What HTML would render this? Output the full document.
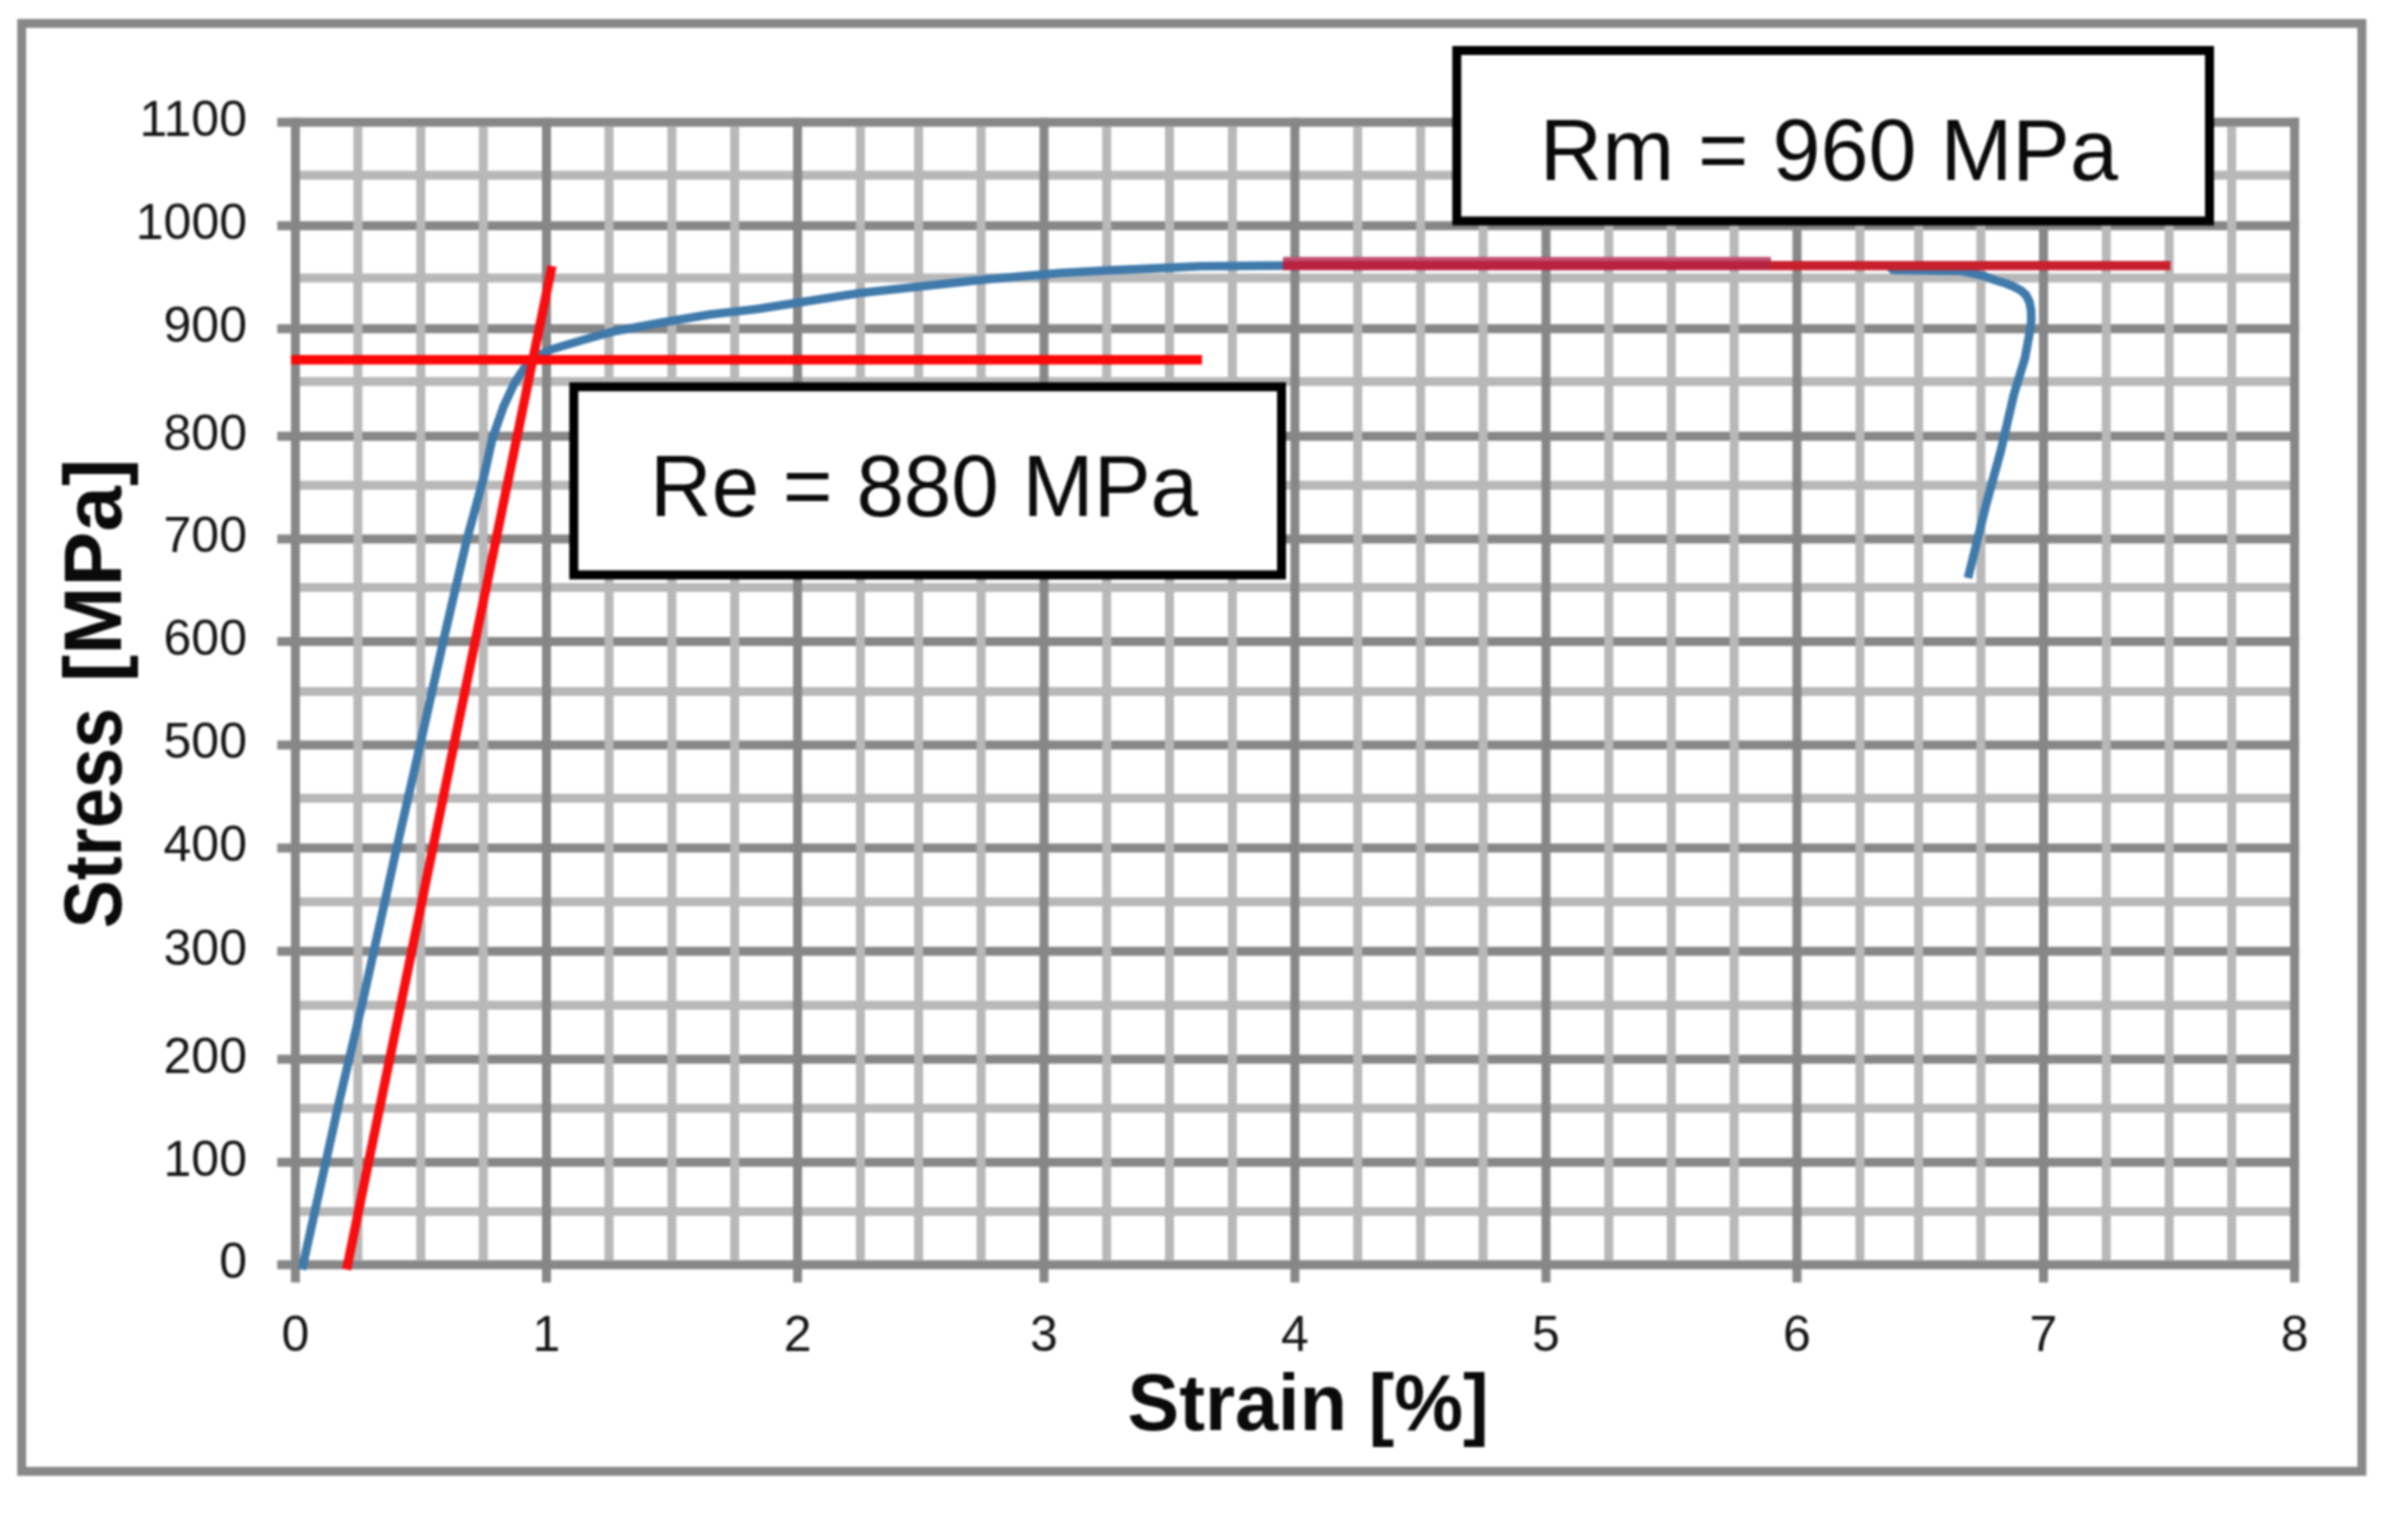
<!DOCTYPE html>
<html lang="en"><head><meta charset="utf-8"><title>Stress-Strain</title>
<style>html,body{margin:0;padding:0;background:#fff;}body{width:2393px;height:1513px;overflow:hidden;}svg{display:block;filter:blur(1.3px);}</style>
</head><body>
<svg width="2393" height="1513" viewBox="0 0 2393 1513">
<rect x="0" y="0" width="2393" height="1513" fill="#fff"/>
<rect x="21.7" y="23.4" width="2340.2000000000003" height="1447.8999999999999" fill="none" stroke="#888888" stroke-width="8.9"/>
<g stroke-width="9.0">
<line x1="295.4" y1="175.3" x2="2294.6" y2="175.3" stroke="#b8b8b8"/>
<line x1="295.4" y1="278" x2="2294.6" y2="278" stroke="#b8b8b8"/>
<line x1="295.4" y1="381.5" x2="2294.6" y2="381.5" stroke="#b8b8b8"/>
<line x1="295.4" y1="485.3" x2="2294.6" y2="485.3" stroke="#b8b8b8"/>
<line x1="295.4" y1="587.6" x2="2294.6" y2="587.6" stroke="#b8b8b8"/>
<line x1="295.4" y1="691.5" x2="2294.6" y2="691.5" stroke="#b8b8b8"/>
<line x1="295.4" y1="798.3" x2="2294.6" y2="798.3" stroke="#b8b8b8"/>
<line x1="295.4" y1="901.8" x2="2294.6" y2="901.8" stroke="#b8b8b8"/>
<line x1="295.4" y1="1005.2" x2="2294.6" y2="1005.2" stroke="#b8b8b8"/>
<line x1="295.4" y1="1108.3" x2="2294.6" y2="1108.3" stroke="#b8b8b8"/>
<line x1="295.4" y1="1211.4" x2="2294.6" y2="1211.4" stroke="#b8b8b8"/>
<line x1="277.3" y1="122.3" x2="2299.1" y2="122.3" stroke="#878787"/>
<line x1="277.3" y1="225.7" x2="2299.1" y2="225.7" stroke="#878787"/>
<line x1="277.3" y1="328.7" x2="2299.1" y2="328.7" stroke="#878787"/>
<line x1="277.3" y1="436.2" x2="2299.1" y2="436.2" stroke="#878787"/>
<line x1="277.3" y1="538.9" x2="2299.1" y2="538.9" stroke="#878787"/>
<line x1="277.3" y1="641.5" x2="2299.1" y2="641.5" stroke="#878787"/>
<line x1="277.3" y1="744.9" x2="2299.1" y2="744.9" stroke="#878787"/>
<line x1="277.3" y1="848" x2="2299.1" y2="848" stroke="#878787"/>
<line x1="277.3" y1="951.2" x2="2299.1" y2="951.2" stroke="#878787"/>
<line x1="277.3" y1="1059.2" x2="2299.1" y2="1059.2" stroke="#878787"/>
<line x1="277.3" y1="1162.3" x2="2299.1" y2="1162.3" stroke="#878787"/>
<line x1="277.3" y1="1264.8" x2="2299.1" y2="1264.8" stroke="#878787"/>
<line x1="357.9" y1="126.8" x2="357.9" y2="1260.3" stroke="#b8b8b8"/>
<line x1="420.8" y1="126.8" x2="420.8" y2="1260.3" stroke="#b8b8b8"/>
<line x1="483.3" y1="126.8" x2="483.3" y2="1260.3" stroke="#b8b8b8"/>
<line x1="609" y1="126.8" x2="609" y2="1260.3" stroke="#b8b8b8"/>
<line x1="671.9" y1="126.8" x2="671.9" y2="1260.3" stroke="#b8b8b8"/>
<line x1="734.7" y1="126.8" x2="734.7" y2="1260.3" stroke="#b8b8b8"/>
<line x1="860.4" y1="126.8" x2="860.4" y2="1260.3" stroke="#b8b8b8"/>
<line x1="918.6" y1="126.8" x2="918.6" y2="1260.3" stroke="#b8b8b8"/>
<line x1="981.1" y1="126.8" x2="981.1" y2="1260.3" stroke="#b8b8b8"/>
<line x1="1106.7" y1="126.8" x2="1106.7" y2="1260.3" stroke="#b8b8b8"/>
<line x1="1169.5" y1="126.8" x2="1169.5" y2="1260.3" stroke="#b8b8b8"/>
<line x1="1232.4" y1="126.8" x2="1232.4" y2="1260.3" stroke="#b8b8b8"/>
<line x1="1357.7" y1="126.8" x2="1357.7" y2="1260.3" stroke="#b8b8b8"/>
<line x1="1420.6" y1="126.8" x2="1420.6" y2="1260.3" stroke="#b8b8b8"/>
<line x1="1483.1" y1="126.8" x2="1483.1" y2="1260.3" stroke="#b8b8b8"/>
<line x1="1608.8" y1="126.8" x2="1608.8" y2="1260.3" stroke="#b8b8b8"/>
<line x1="1671.3" y1="126.8" x2="1671.3" y2="1260.3" stroke="#b8b8b8"/>
<line x1="1734.2" y1="126.8" x2="1734.2" y2="1260.3" stroke="#b8b8b8"/>
<line x1="1859.9" y1="126.8" x2="1859.9" y2="1260.3" stroke="#b8b8b8"/>
<line x1="1918.6" y1="126.8" x2="1918.6" y2="1260.3" stroke="#b8b8b8"/>
<line x1="1980.9" y1="126.8" x2="1980.9" y2="1260.3" stroke="#b8b8b8"/>
<line x1="2106.3" y1="126.8" x2="2106.3" y2="1260.3" stroke="#b8b8b8"/>
<line x1="2169.2" y1="126.8" x2="2169.2" y2="1260.3" stroke="#b8b8b8"/>
<line x1="2231.7" y1="126.8" x2="2231.7" y2="1260.3" stroke="#b8b8b8"/>
<line x1="295.4" y1="117.8" x2="295.4" y2="1282.5" stroke="#878787"/>
<line x1="546.5" y1="117.8" x2="546.5" y2="1282.5" stroke="#878787"/>
<line x1="797.6" y1="117.8" x2="797.6" y2="1282.5" stroke="#878787"/>
<line x1="1044" y1="117.8" x2="1044" y2="1282.5" stroke="#878787"/>
<line x1="1294.9" y1="117.8" x2="1294.9" y2="1282.5" stroke="#878787"/>
<line x1="1546" y1="117.8" x2="1546" y2="1282.5" stroke="#878787"/>
<line x1="1797" y1="117.8" x2="1797" y2="1282.5" stroke="#878787"/>
<line x1="2043.5" y1="117.8" x2="2043.5" y2="1282.5" stroke="#878787"/>
<line x1="2294.6" y1="117.8" x2="2294.6" y2="1282.5" stroke="#878787"/>
</g>
<path d="M302.0,1269.5 L339.5,1100 L363.5,998 L396.5,848.7 L421,741 L444,638 L467,539 L483.6,478 L492.4,438.3 L503.5,406.6 L514.6,382.8 L524,368.5 L536,357 L551,349.5 L582.8,340 L614.5,331.2 L662,322.5 L709.7,314.6 L757.3,309 L860,293 L985,279.4 L1060,273 L1110,270.3 L1150,268.6 L1200,266.3 L1277.6,265.6 L1500,265.6 L1770,265.6 L1889,265.8 L1893,270 L1962,271 L1984,276 L1996,280.5 L2006,283.5 L2014,286.8 L2021,290.5 L2026,295 L2029.5,302 L2031,310 L2031.3,320 L2030.3,329 L2025,358 L2014,394 L2001,450 L1986,505 L1968,578" fill="none" stroke="#3f7aab" stroke-width="8.6" stroke-linejoin="round" stroke-linecap="butt"/>
<line x1="291" y1="359.8" x2="1202" y2="359.8" stroke="#fb0808" stroke-width="9.4"/>
<line x1="346.6" y1="1269.5" x2="552" y2="266" stroke="#f80d10" stroke-width="9.2"/>
<rect x="1283" y="256.9" width="488" height="5" fill="#bf5374"/>
<line x1="1283" y1="265.6" x2="1771" y2="265.6" stroke="#b9233f" stroke-width="9.1"/>
<line x1="1771" y1="265.6" x2="2170.5" y2="265.6" stroke="#c8202d" stroke-width="9.1"/>
<rect x="1456.8" y="50.5" width="752.7" height="170.5" fill="#fff" stroke="#000" stroke-width="9"/>
<rect x="573.8" y="386.8" width="707.7" height="188.09999999999997" fill="#fff" stroke="#000" stroke-width="9"/>
<g font-family="'Liberation Sans', sans-serif" fill="#141414" font-size="50" text-anchor="end">
<text x="247" y="135.7">1100</text>
<text x="247" y="239.1">1000</text>
<text x="247" y="342.1">900</text>
<text x="247" y="449.6">800</text>
<text x="247" y="552.3">700</text>
<text x="247" y="654.9">600</text>
<text x="247" y="758.3">500</text>
<text x="247" y="861.4">400</text>
<text x="247" y="964.6">300</text>
<text x="247" y="1072.6">200</text>
<text x="247" y="1175.7">100</text>
<text x="247" y="1278.2">0</text>
</g>
<g font-family="'Liberation Sans', sans-serif" fill="#141414" font-size="50" text-anchor="middle">
<text x="295.4" y="1351">0</text>
<text x="546.5" y="1351">1</text>
<text x="797.6" y="1351">2</text>
<text x="1044" y="1351">3</text>
<text x="1294.9" y="1351">4</text>
<text x="1546" y="1351">5</text>
<text x="1797" y="1351">6</text>
<text x="2043.5" y="1351">7</text>
<text x="2294.6" y="1351">8</text>
</g>
<text font-family="'Liberation Sans', sans-serif" font-size="88" fill="#0a0a0a" transform="translate(1539.8,179.7) scale(0.981,1)" id="rm">Rm = 960 MPa</text>
<text font-family="'Liberation Sans', sans-serif" font-size="88" fill="#0a0a0a" transform="translate(650,516) scale(0.97,1)" id="re">Re = 880 MPa</text>
<text font-family="'Liberation Sans', sans-serif" font-size="80" font-weight="bold" fill="#0a0a0a" transform="translate(1127.5,1430.4) scale(0.968,1)" id="xt">Strain [%]</text>
<text font-family="'Liberation Sans', sans-serif" font-size="82" font-weight="bold" fill="#0a0a0a" transform="translate(121.3,928.2) rotate(-90) scale(0.879,1)" id="yt">Stress</text>
<text font-family="'Liberation Sans', sans-serif" font-size="82" font-weight="bold" fill="#0a0a0a" transform="translate(121.3,682) rotate(-90) scale(1.0,1)" id="yt2">[MPa]</text>
</svg>
</body></html>
